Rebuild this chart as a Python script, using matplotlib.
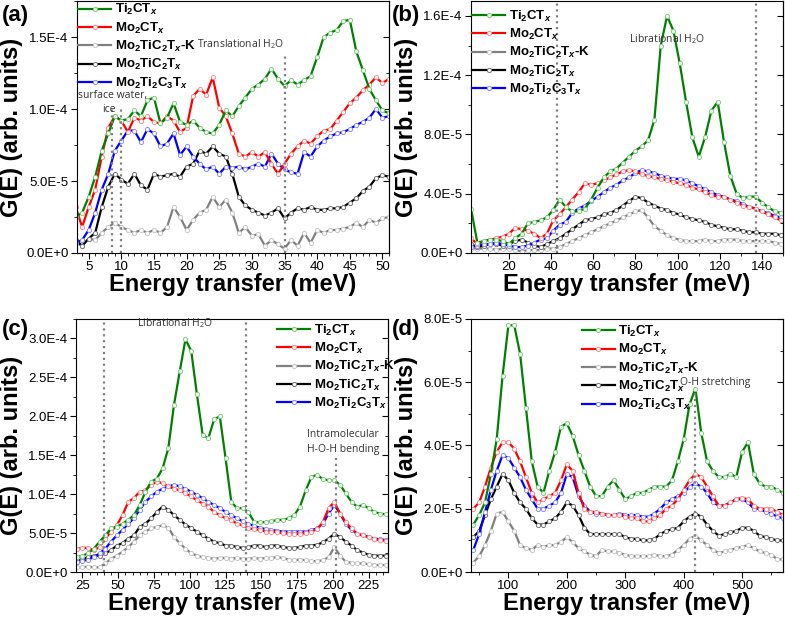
import numpy as np
import matplotlib
matplotlib.use('Agg')
import matplotlib.pyplot as plt
from matplotlib.ticker import FuncFormatter, MultipleLocator

plt.rcParams['font.family'] = ['Liberation Sans', 'DejaVu Sans']
plt.rcParams['mathtext.fontset'] = 'custom'
plt.rcParams['mathtext.rm'] = 'Liberation Sans'
plt.rcParams['mathtext.it'] = 'Liberation Sans:italic:bold'
plt.rcParams['mathtext.bf'] = 'Liberation Sans:bold'

# series names, in legend order
labels = ['Ti$_\\mathregular{2}$CT$_{x}$',
          'Mo$_\\mathregular{2}$CT$_{x}$',
          'Mo$_\\mathregular{2}$TiC$_\\mathregular{2}$T$_{x}$-K',
          'Mo$_\\mathregular{2}$TiC$_\\mathregular{2}$T$_{x}$',
          'Mo$_\\mathregular{2}$Ti$_\\mathregular{2}$C$_\\mathregular{3}$T$_{x}$']
line_colors = ['#008000', '#ff0000', '#808080', '#000000', '#0000ff']
marker_colors = ['#7ccf7c', '#ff8c8c', '#c8c8c8', '#777777', '#8c8cff']

# ---- panel (a): 3 - 51 meV, values in 1e-5
a_energy = np.arange(3, 52, 1)
a_ti2c = [2.5, 2.8, 3.9, 5.3, 7.1, 8.3, 9.5, 9.2, 9.3, 9.9, 9.5, 10.6, 10.8, 9.0, 9.4, 10.4, 9.1,
          8.9, 9.2, 8.7, 8.4, 8.3, 8.9, 9.9, 9.5, 10.2, 10.8, 11.4, 11.7, 12.1, 12.8, 12.1, 11.6,
          12.0, 11.7, 12.0, 12.3, 13.6, 15.0, 15.3, 15.5, 16.1, 16.2, 14.0, 12.7, 11.4, 10.6, 9.9, 9.7]
a_mo2c = [3.2, 1.8, 3.2, 4.4, 6.7, 8.7, 9.5, 9.2, 8.4, 9.4, 9.2, 9.5, 9.1, 9.0, 9.5, 9.2, 8.4,
          8.7, 10.9, 11.4, 11.0, 12.2, 10.1, 9.5, 8.3, 6.9, 6.7, 7.0, 6.7, 7.0, 6.2, 5.5, 6.2,
          6.9, 7.4, 7.8, 7.6, 8.1, 8.5, 8.6, 9.2, 9.8, 10.4, 10.8, 11.3, 11.7, 12.2, 11.8, 12.1]
a_mo2tic2_k = [0.7, 0.5, 1.0, 0.9, 1.4, 1.8, 2.1, 1.8, 1.6, 1.4, 1.6, 1.4, 1.6, 1.4, 1.8, 3.2, 2.5,
               1.6, 2.3, 2.8, 3.0, 3.9, 3.2, 3.7, 2.8, 1.4, 1.8, 1.2, 1.3, 0.5, 0.9, 0.6, 0.3,
               0.9, 0.5, 1.4, 0.7, 1.6, 1.4, 1.6, 1.6, 1.7, 1.8, 2.1, 1.8, 2.3, 2.1, 2.4, 2.5]
a_mo2tic2 = [0.9, 0.5, 1.0, 1.4, 3.2, 4.6, 5.5, 5.1, 4.8, 5.5, 4.7, 4.4, 5.5, 5.3, 5.4, 5.5, 5.3,
             6.0, 6.2, 7.1, 6.9, 7.4, 6.9, 6.7, 5.5, 3.9, 3.3, 3.0, 2.8, 2.6, 2.8, 3.1, 2.4,
             2.8, 3.1, 3.0, 3.2, 3.0, 3.0, 3.1, 3.1, 3.2, 3.5, 3.8, 4.3, 4.6, 5.2, 5.4, 5.3]
a_mo2ti2c3 = [0.7, 0.9, 1.6, 2.8, 4.4, 5.5, 7.1, 7.8, 8.5, 8.5, 7.7, 8.6, 8.3, 7.4, 7.6, 8.3, 6.8,
              7.4, 6.7, 6.2, 5.8, 6.0, 5.5, 6.0, 5.9, 6.0, 5.8, 6.0, 6.2, 6.0, 6.9, 6.2, 5.8,
              5.6, 5.5, 7.0, 6.7, 7.4, 7.8, 8.1, 8.3, 8.4, 8.6, 8.9, 9.1, 9.4, 10.0, 9.4, 9.5]

# ---- panel (b): 2 - 149 meV
b_energy = np.arange(2, 150, 3)
b_ti2c = [3.0, 0.7, 0.8, 0.9, 0.9, 0.8, 0.6, 1.0, 1.3, 2.0,
          2.1, 2.2, 2.4, 2.9, 3.6, 3.1, 2.8, 2.8, 3.0, 3.6,
          4.4, 5.1, 5.5, 5.7, 6.1, 6.5, 6.9, 7.2, 7.6, 9.0,
          14.0, 16.0, 15.0, 12.8, 10.2, 7.8, 6.5, 7.8, 9.6, 10.2,
          7.5, 5.2, 4.0, 3.7, 3.8, 3.8, 3.4, 3.1, 2.8, 2.7]
b_mo2c = [1.0, 0.6, 0.8, 0.9, 1.0, 1.1, 1.3, 1.7, 1.6, 1.5,
          1.3, 1.0, 1.3, 2.2, 2.6, 3.1, 3.6, 4.1, 4.7, 4.6,
          4.7, 4.9, 5.1, 5.3, 5.5, 5.6, 5.5, 5.3, 5.2, 5.1,
          5.0, 4.9, 4.8, 4.7, 4.6, 4.4, 4.3, 4.1, 3.9, 3.8,
          3.8, 3.6, 3.4, 3.2, 3.1, 3.0, 2.8, 2.6, 2.4, 2.2]
b_mo2tic2_k = [0.3, 0.3, 0.3, 0.3, 0.2, 0.3, 0.3, 0.2, 0.1, 0.2,
               0.2, 0.2, 0.3, 0.3, 0.4, 0.6, 0.8, 1.0, 1.2, 1.4,
               1.6, 1.8, 2.0, 2.2, 2.4, 2.6, 2.8, 2.9, 2.4, 1.8,
               1.5, 1.2, 1.0, 0.9, 0.8, 0.8, 0.8, 0.9, 0.8, 0.8,
               0.9, 0.9, 0.9, 0.8, 0.8, 0.8, 0.8, 0.8, 0.7, 0.6]
b_mo2tic2 = [0.6, 0.4, 0.5, 0.6, 0.6, 0.5, 0.6, 0.8, 0.9, 0.7,
             0.5, 0.4, 0.6, 0.8, 1.0, 1.3, 1.6, 1.9, 2.2, 2.3,
             2.4, 2.6, 2.7, 2.9, 3.2, 3.5, 3.8, 3.7, 3.4, 3.2,
             3.0, 2.9, 2.7, 2.6, 2.4, 2.3, 2.2, 2.1, 1.9, 1.8,
             1.7, 1.6, 1.6, 1.5, 1.4, 1.4, 1.3, 1.3, 1.3, 1.2]
b_mo2ti2c3 = [0.4, 0.5, 0.6, 0.6, 0.7, 0.6, 0.5, 0.4, 0.4, 0.5,
              0.7, 0.9, 1.0, 1.5, 1.9, 2.1, 2.7, 3.0, 3.2, 3.5,
              3.8, 4.1, 4.4, 4.6, 4.9, 5.1, 5.4, 5.6, 5.5, 5.4,
              5.2, 5.1, 5.0, 5.0, 4.9, 4.7, 4.5, 4.3, 4.1, 3.9,
              3.8, 3.6, 3.5, 3.3, 3.1, 3.0, 2.8, 2.7, 2.5, 2.4]

# ---- panel (c): 21 - 237 meV
c_energy = np.arange(21, 238, 4)
c_ti2c = [1.9, 2.1, 2.4, 3.0, 3.9, 4.7, 5.6, 5.8, 6.2, 6.7,
          7.3, 8.6, 10.3, 11.6, 12.0, 13.3, 15.9, 21.5, 25.8, 29.9,
          28.4, 22.8, 17.6, 17.2, 19.6, 20.0, 14.6, 9.0, 8.2, 8.2,
          7.7, 6.4, 6.4, 6.4, 6.5, 6.7, 6.7, 6.9, 7.3, 8.4,
          10.5, 12.2, 12.5, 11.9, 11.8, 11.8, 11.2, 10.1, 9.0, 8.4,
          8.6, 8.2, 7.7, 7.5, 7.4]
c_mo2c = [3.0, 3.1, 3.1, 2.8, 3.2, 4.3, 5.2, 6.0, 7.3, 9.0,
          9.5, 10.3, 10.5, 11.2, 11.6, 11.4, 11.0, 10.7, 10.5, 10.1,
          9.7, 9.2, 8.8, 8.4, 7.7, 7.3, 6.9, 6.7, 6.2, 6.0,
          5.6, 5.5, 5.4, 5.2, 5.2, 5.1, 5.0, 4.9, 4.9, 4.9,
          5.0, 5.2, 5.5, 6.4, 8.2, 9.0, 7.5, 6.4, 5.6, 4.9,
          4.7, 4.5, 4.2, 4.1, 4.0]
c_mo2tic2_k = [0.6, 0.6, 0.7, 0.6, 0.6, 1.1, 1.7, 2.1, 2.6, 3.2,
               3.9, 4.7, 5.2, 5.6, 5.8, 6.0, 5.7, 4.5, 3.7, 3.0,
               2.4, 2.1, 1.9, 1.8, 1.7, 1.8, 1.8, 1.7, 1.8, 1.7,
               1.7, 1.8, 1.7, 1.8, 1.8, 1.9, 1.8, 1.6, 1.5, 1.6,
               1.5, 1.4, 1.4, 1.5, 1.9, 3.2, 2.1, 1.3, 1.2, 1.1,
               1.1, 1.0, 0.9, 0.9, 0.9]
c_mo2tic2 = [1.3, 1.7, 1.9, 2.1, 2.1, 2.4, 2.8, 3.4, 3.7, 4.3,
             4.7, 5.8, 6.2, 6.9, 7.7, 8.4, 8.0, 7.3, 6.7, 6.1,
             5.6, 5.2, 4.7, 4.3, 3.9, 3.7, 3.4, 3.4, 3.2, 3.1,
             3.2, 3.4, 3.4, 3.2, 3.4, 3.4, 3.2, 3.1, 3.1, 3.2,
             3.4, 3.4, 3.5, 3.8, 4.3, 4.9, 4.5, 3.9, 3.4, 2.8,
             2.5, 2.2, 2.1, 2.1, 2.1]
c_mo2ti2c3 = [1.3, 1.4, 1.6, 1.9, 2.4, 3.0, 3.9, 4.7, 5.4, 6.2,
              6.9, 8.0, 9.0, 9.7, 10.3, 10.7, 11.0, 11.2, 11.0, 10.7,
              10.3, 9.9, 9.5, 9.0, 8.6, 8.2, 7.7, 7.3, 6.9, 6.5,
              6.2, 5.9, 5.7, 5.5, 5.4, 5.3, 5.2, 5.2, 5.2, 5.2,
              5.2, 5.4, 5.6, 6.2, 7.5, 8.6, 7.5, 6.2, 5.4, 4.9,
              4.7, 4.5, 4.3, 4.2, 4.1]

# ---- panel (d): 40 - 570 meV
d_energy = np.arange(40, 571, 10)
d_ti2c = [1.5, 1.8, 2.2, 3.1, 4.2, 6.2, 7.8, 7.8, 6.9, 5.2,
          3.5, 2.7, 2.5, 3.2, 3.8, 4.6, 4.7, 4.3, 3.7, 3.2,
          2.7, 2.4, 2.4, 2.7, 2.9, 2.6, 2.3, 2.4, 2.5, 2.5,
          2.6, 2.7, 2.7, 2.7, 2.9, 3.5, 4.2, 5.3, 5.8, 4.4,
          3.5, 3.2, 3.0, 3.0, 3.1, 3.0, 3.8, 4.1, 3.1, 2.8,
          2.7, 2.7, 2.6, 2.5]
d_mo2c = [2.0, 2.2, 2.7, 3.3, 3.8, 4.1, 4.1, 3.9, 3.5, 3.0,
          2.5, 2.2, 2.3, 2.4, 2.5, 2.9, 3.4, 3.2, 2.5, 2.0,
          1.9, 1.9, 1.85, 1.8, 1.8, 1.8, 1.75, 1.7, 1.7, 1.6,
          1.6, 1.7, 1.8, 2.0, 2.1, 2.3, 2.6, 2.9, 3.1, 3.0,
          2.7, 2.4, 2.1, 2.1, 2.2, 2.3, 2.35, 2.3, 2.1, 2.0,
          2.0, 2.0, 1.9, 1.8]
d_mo2tic2_k = [0.3, 0.5, 0.85, 1.3, 1.85, 1.9, 1.6, 1.3, 0.85, 0.75,
               0.7, 0.85, 0.8, 0.85, 0.85, 0.95, 1.1, 0.95, 0.75, 0.65,
               0.55, 0.5, 0.7, 0.65, 0.65, 0.6, 0.55, 0.5, 0.5, 0.5,
               0.5, 0.55, 0.5, 0.5, 0.55, 0.7, 0.85, 1.05, 1.15, 1.0,
               0.85, 0.7, 0.6, 0.65, 0.7, 0.75, 0.8, 0.85, 0.75, 0.65,
               0.6, 0.55, 0.4, 0.4]
d_mo2tic2 = [1.1, 1.3, 1.8, 2.3, 2.7, 3.1, 2.9, 2.5, 2.2, 2.0,
             1.7, 1.5, 1.5, 1.6, 1.7, 1.9, 2.2, 2.1, 1.8, 1.4,
             1.2, 1.2, 1.2, 1.2, 1.2, 1.2, 1.1, 1.05, 1.05, 1.0,
             1.0, 1.05, 1.2, 1.3, 1.35, 1.4, 1.6, 1.75, 1.85, 1.75,
             1.5, 1.3, 1.15, 1.2, 1.25, 1.3, 1.4, 1.4, 1.3, 1.15,
             1.1, 1.05, 1.0, 1.0]
d_mo2ti2c3 = [0.7, 1.2, 1.9, 2.6, 3.2, 3.7, 3.6, 3.3, 3.0, 2.6,
              2.3, 2.0, 2.0, 2.1, 2.2, 2.5, 3.1, 3.0, 2.4, 2.1,
              1.9, 1.85, 1.85, 1.8, 1.8, 1.85, 1.8, 1.8, 1.8, 1.75,
              1.75, 1.85, 2.0, 2.2, 2.3, 2.4, 2.5, 2.7, 2.8, 2.7,
              2.5, 2.2, 2.1, 2.1, 2.2, 2.3, 2.3, 2.2, 2.0, 2.0,
              1.9, 1.85, 1.75, 1.7]

scale = 1e-5


def sci(v, pos):
    if v == 0:
        return '0.0E+0'
    m, e = ('%.1E' % v).split('E')
    return '%sE%d' % (m, int(e))


def draw(ax, energy, series, xlim, ylim, xmaj, xmin, ymaj):
    order = [2, 3, 4, 1, 0]  # drawing order, green on top
    handles = [None] * 5
    for i in order:
        h, = ax.plot(energy, np.array(series[i]) * scale, '-', color=line_colors[i], lw=1.6,
                     marker='o', ms=3.0, mfc='white', mec=marker_colors[i], mew=0.7)
        handles[i] = h
    ax.set_xlim(*xlim)
    ax.set_ylim(*ylim)
    ax.xaxis.set_major_locator(MultipleLocator(xmaj))
    ax.xaxis.set_minor_locator(MultipleLocator(xmin))
    ax.yaxis.set_major_locator(MultipleLocator(ymaj))
    ax.yaxis.set_minor_locator(MultipleLocator(ymaj / 2))
    ax.yaxis.set_major_formatter(FuncFormatter(sci))
    ax.tick_params(which='both', direction='out', labelsize=9.5, pad=2)
    ax.tick_params(which='major', length=4)
    ax.tick_params(which='minor', length=2.5)
    sec = ax.secondary_yaxis('right')
    sec.yaxis.set_major_locator(MultipleLocator(ymaj))
    sec.yaxis.set_minor_locator(MultipleLocator(ymaj / 2))
    sec.tick_params(which='both', direction='in', labelright=False)
    sec.tick_params(which='major', length=4)
    sec.tick_params(which='minor', length=2.5)
    ax.set_xlabel('Energy transfer (meV)', fontsize=17, fontweight='bold', labelpad=0)
    ax.set_ylabel('G(E) (arb. units)', fontsize=17, fontweight='bold', labelpad=2)
    return handles


def legend(ax, handles, anchor):
    ax.legend(handles, labels, loc='upper left', bbox_to_anchor=anchor, frameon=False,
              prop={'weight': 'bold', 'size': 9.5}, handlelength=2.5, handletextpad=0.3,
              labelspacing=0.24, borderpad=0.1, borderaxespad=0)


fig = plt.figure(figsize=(7.85, 6.19), dpi=100)
ax_a = fig.add_axes([0.098, 0.5913, 0.3975, 0.4070])
ax_b = fig.add_axes([0.600, 0.5913, 0.3975, 0.4070])
ax_c = fig.add_axes([0.0968, 0.0759, 0.3975, 0.4088])
ax_d = fig.add_axes([0.600, 0.0759, 0.3975, 0.4088])

note = dict(fontsize=7.5, color='#333333', family=['Open Sans', 'DejaVu Sans'])
dots = dict(colors='#808080', linestyles=':', linewidth=1.6)

# (a)
h = draw(ax_a, a_energy, [a_ti2c, a_mo2c, a_mo2tic2_k, a_mo2tic2, a_mo2ti2c3],
         (3.2, 51), (0, 1.75e-4), 5, 1, 5e-5)
legend(ax_a, h, (0.0, 1.0))
ax_a.vlines([8.5, 10], 0, 1.0e-4, **dots)
ax_a.vlines([35], 0, 1.38e-4, **dots)
ax_a.text(34.9, 1.4e-4, 'Translational H$_\\mathregular{2}$O', ha='right', va='bottom', **note)
ax_a.text(3.4, 1.075e-4, 'surface water,', ha='left', va='baseline', **note)
ax_a.text(7.0, 0.98e-4, 'ice', ha='left', va='baseline', **note)

# (b)
h = draw(ax_b, b_energy, [b_ti2c, b_mo2c, b_mo2tic2_k, b_mo2tic2, b_mo2ti2c3],
         (2, 150), (0, 1.70e-4), 20, 10, 4e-5)
legend(ax_b, h, (0.0, 0.975))
ax_b.vlines([43, 137], 0, 1.70e-4, **dots)
ax_b.text(95, 1.44e-4, 'Librational H$_\\mathregular{2}$O', ha='center', va='center', **note)

# (c)
h = draw(ax_c, c_energy, [c_ti2c, c_mo2c, c_mo2tic2_k, c_mo2tic2, c_mo2ti2c3],
         (20.5, 238.5), (0, 3.25e-4), 25, 5, 5e-5)
legend(ax_c, h, (0.64, 0.99))
ax_c.vlines([40, 139], 0, 3.25e-4, **dots)
ax_c.vlines([202], 0, 1.5e-4, **dots)
ax_c.text(90, 3.2e-4, 'Librational H$_\\mathregular{2}$O', ha='center', va='center', **note)
ax_c.text(207, 1.76e-4, 'Intramolecular', ha='center', va='center', **note)
ax_c.text(207, 1.57e-4, 'H-O-H bending', ha='center', va='center', **note)

# (d)
h = draw(ax_d, d_energy, [d_ti2c, d_mo2c, d_mo2tic2_k, d_mo2tic2, d_mo2ti2c3],
         (36, 570), (0, 8e-5), 100, 50, 2e-5)
legend(ax_d, h, (0.35, 0.985))
ax_d.vlines([420], 0, 5.7e-5, **dots)
ax_d.text(394, 6.0e-5, 'O-H stretching', ha='left', va='center', **note)

for x, y, s in [(0.002, 0.975, '(a)'), (0.499, 0.975, '(b)'),
                (0.002, 0.467, '(c)'), (0.499, 0.467, '(d)')]:
    fig.text(x, y, s, fontsize=16, fontweight='bold', ha='left', va='center')

fig.savefig('out.png', dpi=100)
